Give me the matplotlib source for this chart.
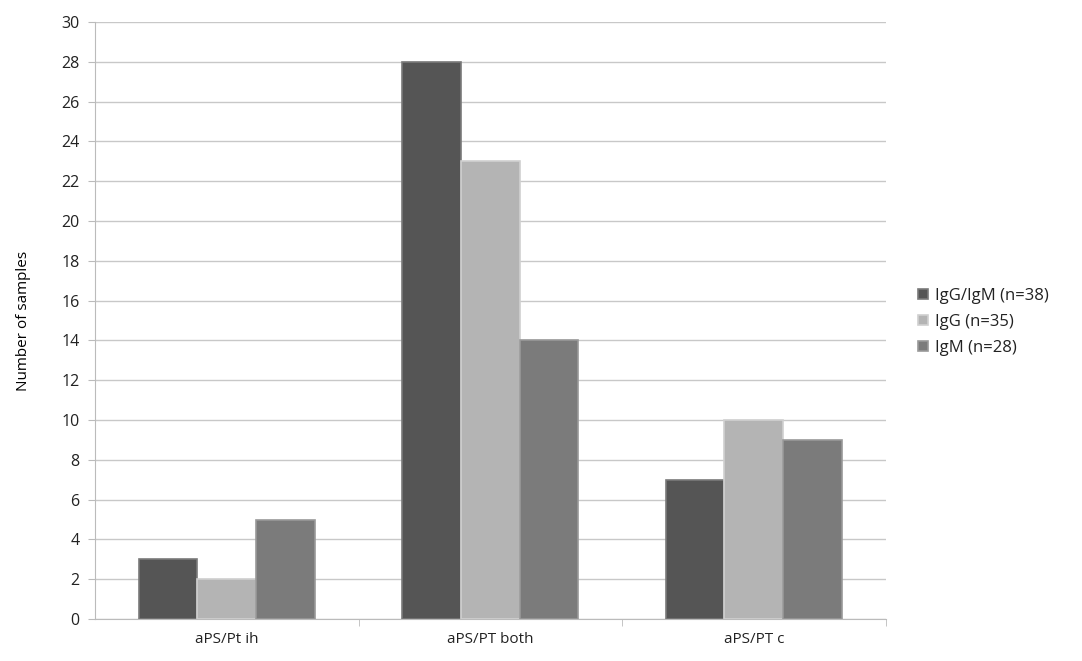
import numpy as np
import matplotlib.pyplot as plt

# data
categories = ['aPS/Pt ih', 'aPS/PT both', 'aPS/PT c']
series_names = ['IgG/IgM (n=38)', 'IgG (n=35)', 'IgM (n=28)']
igg_igm = [3, 28, 7]
igg = [2, 23, 10]
igm = [5, 14, 9]
values = [igg_igm, igg, igm]
colors = ['#555555', '#b4b4b4', '#7b7b7b']
edge_colors = ['#7a7a7a', '#d0d0d0', '#999999']

plt.rcParams['font.family'] = ['Open Sans', 'DejaVu Sans']
plt.rcParams['text.color'] = '#222222'
plt.rcParams['xtick.labelcolor'] = '#222222'
plt.rcParams['ytick.labelcolor'] = '#222222'

fig = plt.figure(figsize=(10.82, 6.61), dpi=100)
ax = fig.add_axes([0.0878, 0.0635, 0.7306, 0.9032])

x = np.arange(len(categories))
width = 0.223
handles = []
for i, (vals, c, ec) in enumerate(zip(values, colors, edge_colors)):
    b = ax.bar(x + (i - 1) * width, vals, width, color=c, edgecolor=ec,
               linewidth=1.2, label=series_names[i], zorder=3)
    handles.append(b)

ax.set_xlim(-0.5, 2.5)
ax.set_ylim(0, 30)
ax.set_yticks(range(0, 31, 2))
ax.set_xticks(x)
ax.set_xticklabels(categories)
ax.set_xticks([0.5, 1.5, 2.5], minor=True)
ax.tick_params(axis='x', which='major', length=0, pad=9, labelsize=11)
ax.tick_params(axis='x', which='minor', length=5, color='#bbbbbb')
ax.tick_params(axis='y', length=5, color='#bbbbbb', labelsize=11.5, pad=6)
ax.yaxis.grid(True, color='#c8c8c8', linewidth=1, zorder=0)
for s in ['top', 'right']:
    ax.spines[s].set_visible(False)
for s in ['left', 'bottom']:
    ax.spines[s].set_color('#bbbbbb')
ax.set_ylabel('Number of samples', fontsize=11, labelpad=22)

fig.legend(handles=handles, loc='center left', bbox_to_anchor=(0.835, 0.513),
           frameon=False, fontsize=12, handlelength=0.6, handleheight=0.6,
           handletextpad=0.4, labelspacing=0.6)

fig.savefig('out.png', dpi=100)
